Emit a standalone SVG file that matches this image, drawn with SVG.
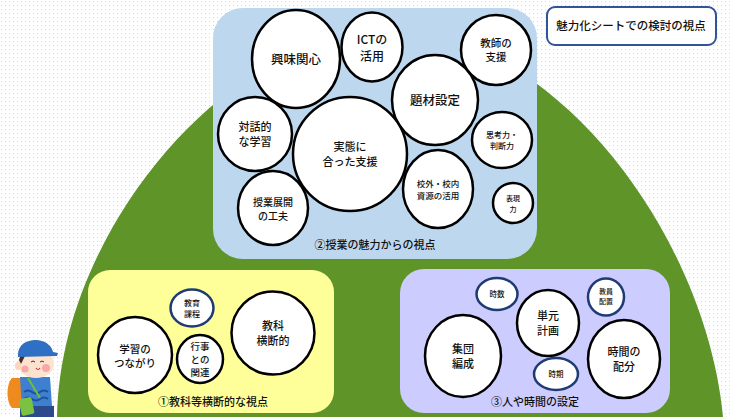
<svg xmlns="http://www.w3.org/2000/svg" width="731" height="417" viewBox="0 0 731 417">
  <defs>
    <pattern id="dots" width="4" height="4" patternUnits="userSpaceOnUse">
      <rect x="1" y="1" width="1" height="1" fill="#c9ddf1"/>
    </pattern>
    <style>
      text { font-family: "Noto Sans CJK JP", "Noto Sans", sans-serif; fill: #111; text-anchor: middle; font-weight: 500; }
      .c { fill: #fff; stroke: #000; stroke-width: 2.5; }
      .n { fill: #fff; stroke: #1f3b73; stroke-width: 2.5; }
      .cap { font-size: 11px; }
    </style>
  </defs>

  <!-- page background -->
  <rect width="731" height="417" fill="#fff"/>
  <rect width="731" height="417" fill="url(#dots)"/>

  <!-- hill -->
  <path d="M57,417 C60,230 230,30 390,30 C550,30 705,230 723,417 Z" fill="#5e9428"/>

  <!-- legend box -->
  <g id="legend">
    <rect x="547" y="7" width="169" height="38" rx="8" fill="#fff" stroke="#2f5597" stroke-width="2"/>
    <text x="631" y="30" font-size="11.5">魅力化シートでの検討の視点</text>
  </g>

  <!-- ② lesson appeal -->
  <g id="panel-lesson">
    <rect x="213" y="8" width="324" height="251" rx="30" fill="#bdd7ee"/>
    <text class="cap" x="375" y="249">②授業の魅力からの視点</text>
  </g>
  <g id="n-kyomi"><ellipse class="c" cx="296" cy="59" rx="44" ry="49"/><text x="296" y="64" font-size="12.5">興味関心</text></g>
  <g id="n-ict"><ellipse class="c" cx="372" cy="47" rx="30.5" ry="34.5"/><text x="372" y="44" font-size="12">ICTの</text><text x="372" y="61" font-size="12">活用</text></g>
  <g id="n-kyoshi"><ellipse class="c" cx="496" cy="50" rx="35" ry="35"/><text x="496" y="47" font-size="10.5">教師の</text><text x="496" y="61" font-size="10.5">支援</text></g>
  <g id="n-daizai"><ellipse class="c" cx="435" cy="100" rx="43" ry="45"/><text x="435" y="105" font-size="12.5">題材設定</text></g>
  <g id="n-taiwa"><ellipse class="c" cx="255" cy="134" rx="37" ry="37"/><text x="255" y="131" font-size="11">対話的</text><text x="255" y="146" font-size="11">な学習</text></g>
  <g id="n-jittai"><ellipse class="c" cx="350" cy="154" rx="57" ry="57"/><text x="350" y="151" font-size="11">実態に</text><text x="350" y="166" font-size="11">合った支援</text></g>
  <g id="n-tenkai"><ellipse class="c" cx="273" cy="208" rx="35" ry="37"/><text x="273" y="206" font-size="10">授業展開</text><text x="273" y="220" font-size="10">の工夫</text></g>
  <g id="n-shigen"><ellipse class="c" cx="438" cy="189" rx="35" ry="39"/><text x="438" y="187" font-size="8.5">校外・校内</text><text x="438" y="199" font-size="8.5">資源の活用</text></g>
  <g id="n-shiko"><ellipse class="c" cx="502" cy="140" rx="30" ry="28"/><text x="502" y="138" font-size="8">思考力・</text><text x="502" y="149" font-size="8">判断力</text></g>
  <g id="n-hyogen"><ellipse class="c" cx="513" cy="203" rx="20" ry="20"/><text x="513" y="201" font-size="7">表現</text><text x="513" y="212" font-size="7">力</text></g>

  <!-- ① cross-curricular -->
  <g id="panel-cross">
    <rect x="88" y="270" width="246" height="143" rx="22" fill="#ffff99"/>
    <text class="cap" x="213" y="406">①教科等横断的な視点</text>
  </g>
  <g id="n-kyoiku"><ellipse class="n" cx="192" cy="308" rx="21.5" ry="18.5"/><text x="192" y="306" font-size="8">教育</text><text x="192" y="317" font-size="8">課程</text></g>
  <g id="n-tsunagari"><ellipse class="c" cx="135" cy="355" rx="37" ry="38"/><text x="135" y="353" font-size="10.5">学習の</text><text x="135" y="367" font-size="10.5">つながり</text></g>
  <g id="n-gyoji"><ellipse class="c" cx="200" cy="359" rx="23" ry="24"/><text x="200" y="350" font-size="9.5">行事</text><text x="200" y="363" font-size="9.5">との</text><text x="200" y="376" font-size="9.5">関連</text></g>
  <g id="n-oudan"><ellipse class="c" cx="273" cy="333" rx="41.5" ry="41.5"/><text x="273" y="330" font-size="11">教科</text><text x="273" y="345" font-size="11">横断的</text></g>

  <!-- ③ people and time -->
  <g id="panel-time">
    <rect x="400" y="269" width="270" height="144" rx="24" fill="#ccccff"/>
    <text class="cap" x="535" y="406">③人や時間の設定</text>
  </g>
  <g id="n-jisu"><ellipse class="n" cx="497" cy="294" rx="20.5" ry="16"/><text x="497" y="297" font-size="7.5">時数</text></g>
  <g id="n-haichi"><ellipse class="n" cx="606" cy="297" rx="18" ry="18.5"/><text x="606" y="294" font-size="7">教員</text><text x="606" y="304" font-size="7">配置</text></g>
  <g id="n-tangen"><ellipse class="c" cx="548" cy="323" rx="31" ry="33"/><text x="548" y="320" font-size="11">単元</text><text x="548" y="335" font-size="11">計画</text></g>
  <g id="n-shudan"><ellipse class="c" cx="463" cy="356" rx="38" ry="41"/><text x="463" y="353" font-size="11">集団</text><text x="463" y="368" font-size="11">編成</text></g>
  <g id="n-haibun"><ellipse class="c" cx="624" cy="359" rx="36" ry="39"/><text x="624" y="356" font-size="11">時間の</text><text x="624" y="371" font-size="11">配分</text></g>
  <g id="n-jiki"><ellipse class="n" cx="556" cy="374" rx="22" ry="16"/><text x="556" y="377" font-size="7.5">時期</text></g>

  <!-- connectors: none drawn -->
  <g id="connectors"/>

  <!-- hiking boy -->
  <g id="hiker">
    <path d="M12,378 C6,384 6,402 12,408 L30,408 L32,378 Z" fill="#ef8a1f"/>
    <path d="M20,377 L50,377 L52,406 L22,408 Z" fill="#3f7fd0"/>
    <path d="M24,392 q4,-3 8,0 t8,0 t8,0" fill="none" stroke="#1d4f9a" stroke-width="2"/>
    <path d="M24,399 q4,-3 8,0 t8,0 t8,0" fill="none" stroke="#1d4f9a" stroke-width="2"/>
    <rect x="20" y="406" width="34" height="11" fill="#2a4a8c"/>
    <path d="M28,378 L40,398" stroke="#6cbf3a" stroke-width="2"/>
    <rect x="20" y="398" width="13" height="17" rx="2" fill="#7cc242" transform="rotate(-12 26 406)"/>
    <ellipse cx="36" cy="364" rx="18" ry="14" fill="#fde3cf"/>
    <path d="M19,360 q2,-8 8,-8 l-6,12 Z" fill="#4a2e1e"/>
    <circle cx="46" cy="368" r="4" fill="#f8a8a8"/>
    <circle cx="25" cy="369" r="3.5" fill="#f8a8a8"/>
    <path d="M31,362 q2,-2 4,0 M40,362 q2,-2 4,0" fill="none" stroke="#333" stroke-width="1"/>
    <path d="M36,368 q2,3 4,0" fill="none" stroke="#d0304a" stroke-width="1.2"/>
    <path d="M18,355 C18,342 32,338 42,341 C48,343 52,347 53,352 L58,353 L57,356 L18,357 Z" fill="#2f6fc4"/>
    <ellipse cx="18" cy="366" rx="3" ry="4" fill="#fbd5bd"/>
  </g>
</svg>
